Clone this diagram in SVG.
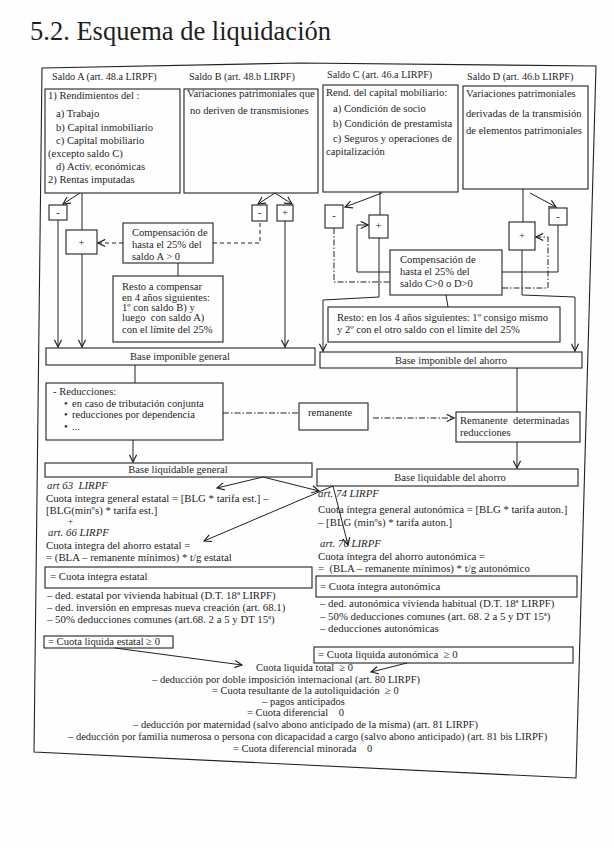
<svg xmlns="http://www.w3.org/2000/svg" width="614" height="848" viewBox="0 0 614 848">
<style>
text{font-family:"Liberation Serif","Times New Roman",serif;font-size:10.6px;fill:#1e1e1e}
.t{font-size:26.5px}
.h{font-size:10.2px}
.m{font-size:10.8px}
.b{font-size:10.5px}
.p{font-size:9px}
.i{font-style:italic}
.c{text-anchor:middle}
.box{fill:none;stroke:#222;stroke-width:1.1}
.ln{fill:none;stroke:#222;stroke-width:1}
.dash{stroke-dasharray:4 3}
.dd{stroke-dasharray:6 2 1.5 2}
</style>
<defs>
<marker id="a" viewBox="0 0 10 10" refX="9" refY="5" markerWidth="9" markerHeight="9" markerUnits="userSpaceOnUse" orient="auto"><path d="M1,1 L9,5 L1,9" fill="none" stroke="#222" stroke-width="1.3"/></marker>
</defs>
<rect width="614" height="848" fill="#fefefe"/>
<text x="30" y="40" class="t">5.2. Esquema de liquidación</text>
<polygon class="box" points="42,68 300,63 596,66 576,778 34,752"/>

<g id="saldoA">
<text x="52" y="80" class="h">Saldo A (art. 48.a LIRPF)</text>
<rect class="box" x="45" y="89" width="135" height="104"/>
<text x="48" y="99">1) Rendimientos del :</text>
<text x="56" y="117">a) Trabajo</text>
<text x="56" y="131">b) Capital inmobiliario</text>
<text x="56" y="144">c) Capital mobiliario</text>
<text x="48" y="157">(excepto saldo C)</text>
<text x="56" y="170">d) Activ. económicas</text>
<text x="48" y="183">2) Rentas imputadas</text>
</g>
<g id="saldoB">
<text x="189" y="80" class="h">Saldo B (art. 48.b LIRPF)</text>
<rect class="box" x="184" y="89" width="134" height="104"/>
<text x="187" y="97">Variaciones patrimoniales que</text>
<text x="190" y="114">no deriven de transmisiones</text>
</g>
<g id="saldoC">
<text x="327" y="78" class="h">Saldo C (art. 46.a LIRPF)</text>
<rect class="box" x="323" y="85" width="135" height="107"/>
<text x="326" y="96">Rend. del capital mobiliario:</text>
<text x="333" y="112">a) Condición de socio</text>
<text x="333" y="127">b) Condición de prestamista</text>
<text x="333" y="142">c) Seguros y operaciones de</text>
<text x="326" y="155">capitalización</text>
</g>
<g id="saldoD">
<text x="467" y="80" class="h">Saldo D (art. 46.b LIRPF)</text>
<rect class="box" x="463" y="86" width="125" height="103"/>
<text x="466" y="97">Variaciones patrimoniales</text>
<text x="466" y="117">derivadas de la transmisión</text>
<text x="466" y="134">de elementos patrimoniales</text>
</g>

<g id="menosA"><rect class="box" x="49" y="205" width="18" height="15"/><text x="58" y="216" class="c">-</text></g>
<g id="masA"><rect class="box" x="66" y="230" width="31" height="24"/><text x="81.5" y="246" class="c">+</text></g>
<g id="menosB"><rect class="box" x="252" y="205" width="15" height="16"/><text x="259.5" y="216" class="c">-</text></g>
<g id="masB"><rect class="box" x="277" y="205" width="16" height="16"/><text x="285" y="216" class="c">+</text></g>
<g id="compAB">
<rect class="box" x="123" y="223" width="90" height="40"/>
<text x="132" y="236">Compensación de</text>
<text x="132" y="248">hasta el 25% del</text>
<text x="132" y="260">saldo A &gt; 0</text>
</g>
<g id="restoAB">
<rect class="box" x="113" y="276" width="110" height="66"/>
<text x="122" y="290">Resto a compensar</text>
<text x="122" y="301">en 4 años siguientes:</text>
<text x="122" y="311">1º con saldo B) y</text>
<text x="122" y="321" xml:space="preserve">luego  con saldo A)</text>
<text x="122" y="333">con el límite del 25%</text>
</g>

<g id="menosC"><rect class="box" x="325" y="205" width="18" height="23"/><text x="334" y="219" class="c">-</text></g>
<g id="masC"><rect class="box" x="369" y="215" width="19" height="23"/><text x="378.5" y="229" class="c">+</text></g>
<g id="masD"><rect class="box" x="509" y="222" width="26" height="28"/><text x="522" y="239" class="c">+</text></g>
<g id="menosD"><rect class="box" x="549" y="208" width="18" height="17"/><text x="558" y="220" class="c">-</text></g>
<g id="compCD">
<rect class="box" x="390" y="250" width="112" height="45"/>
<text x="400" y="263">Compensación de</text>
<text x="400" y="275">hasta el 25% del</text>
<text x="400" y="287">saldo C&gt;0 o D&gt;0</text>
</g>
<g id="restoCD">
<rect class="box" x="328" y="307" width="232" height="35"/>
<text x="337" y="321">Resto: en los 4 años siguientes: 1º consigo mismo</text>
<text x="337" y="333">y 2º con el otro saldo con el límite del 25%</text>
</g>

<g id="bigeneral"><rect class="box" x="46" y="348" width="269" height="17"/><text x="180" y="360" class="c">Base imponible general</text></g>
<g id="biahorro"><rect class="box" x="320" y="352" width="262" height="16"/><text x="451" y="364" class="c">Base imponible del ahorro</text></g>

<g id="reducciones">
<rect class="box" x="46" y="383" width="177" height="57"/>
<text x="53" y="395">- Reducciones:</text>
<text x="64" y="407">•</text><text x="72" y="407">en caso de tributación conjunta</text>
<text x="64" y="418">•</text><text x="72" y="418">reducciones por dependencia</text>
<text x="64" y="430">•</text><text x="72" y="430">...</text>
</g>
<g id="remanente"><rect class="box" x="299" y="403" width="69" height="27"/><text x="308" y="416">remanente</text></g>
<g id="remdet">
<rect class="box" x="456" y="412" width="124" height="30"/>
<text x="460" y="424" xml:space="preserve">Remanente  determinadas</text>
<text x="460" y="436">reducciones</text>
</g>

<g id="blgeneral"><rect class="box" x="45" y="463" width="267" height="14"/><text x="178" y="473" class="c">Base liquidable general</text></g>
<g id="blahorro"><rect class="box" x="317" y="469" width="261" height="17"/><text x="450" y="481" class="c">Base liquidable del ahorro</text></g>

<g id="cuotaEstatal">
<text x="47" y="489" class="i m" xml:space="preserve">art 63  LIRPF</text>
<text x="46" y="502" class="m">Cuota integra general estatal = [BLG * tarifa est.] –</text>
<text x="46" y="514" class="m">[BLG(minºs) * tarifa est.]</text>
<text x="68" y="524" class="p">+</text>
<text x="48" y="536" class="i m">art. 66 LIRPF</text>
<text x="46" y="549" class="m">Cuota integra del ahorro estatal =</text>
<text x="46" y="561" class="m">= (BLA – remanente mínimos) * t/g estatal</text>
<rect class="box" x="45" y="567" width="267" height="21"/>
<text x="50" y="580" class="m">= Cuota integra estatal</text>
<text x="47" y="599" class="m">– ded. estatal por vivienda habitual (D.T. 18ª LIRPF)</text>
<text x="47" y="611" class="m">– ded. inversión en empresas nueva creación (art. 68.1)</text>
<text x="47" y="623" class="m">– 50% deducciones comunes (art.68. 2 a 5 y DT 15ª)</text>
<rect class="box" x="44" y="636" width="129" height="12"/>
<text x="48" y="645">= Cuota liquida estatal ≥ 0</text>
</g>

<g id="cuotaAutonomica">
<text x="318" y="497" class="i m">art. 74 LIRPF</text>
<text x="318" y="513" class="m">Cuota íntegra general autonómica = [BLG * tarifa auton.]</text>
<text x="318" y="526" class="m">– [BLG (minºs) * tarifa auton.]</text>
<text x="320" y="547" class="i m">art. 76 LIRPF</text>
<text x="318" y="560" class="m">Cuota íntegra del ahorro autonómica =</text>
<text x="318" y="572" class="m" xml:space="preserve">=  (BLA – remanente mínimos) * t/g autonómico</text>
<rect class="box" x="316" y="576" width="261" height="21"/>
<text x="320" y="590" class="m">= Cuota íntegra autonómica</text>
<text x="320" y="607" class="m">– ded. autonómica vivienda habitual (D.T. 18ª LIRPF)</text>
<text x="320" y="620" class="m">– 50% deducciones comunes (art. 68. 2 a 5 y DT 15ª)</text>
<text x="320" y="632" class="m">– deducciones autonómicas</text>
<rect class="box" x="314" y="647" width="259" height="16"/>
<text x="318" y="658" class="m" xml:space="preserve">= Cuota liquida autonómica  ≥ 0</text>
</g>

<g id="total">
<text x="256" y="671" class="b" xml:space="preserve">Cuota liquida total  ≥ 0</text>
<text x="152" y="683" class="b">– deducción por doble imposición internacional (art. 80 LIRPF)</text>
<text x="212" y="694" class="b" xml:space="preserve">= Cuota resultante de la autoliquidación  ≥ 0</text>
<text x="262" y="705" class="b">– pagos anticipados</text>
<text x="247" y="716" class="b" xml:space="preserve">= Cuota diferencial    0</text>
<text x="133" y="728" class="b">– deducción por maternidad (salvo abono anticipado de la misma) (art. 81 LIRPF)</text>
<text x="68" y="740" class="b">– deducción por familia numerosa o persona con dicapacidad a cargo (salvo abono anticipado) (art. 81 bis LIRPF)</text>
<text x="233" y="752" class="b" xml:space="preserve">= Cuota diferencial minorada    0</text>
</g>

<g id="connectors">
<path class="ln" d="M80,193 L63,204" marker-end="url(#a)"/>
<path class="ln" d="M82,193 V230"/>
<path class="ln" d="M58,220 V347" marker-end="url(#a)"/>
<path class="ln" d="M82,254 V347" marker-end="url(#a)"/>
<path class="ln dash" d="M123,243 H98" marker-end="url(#a)"/>
<path class="ln dash" d="M213,243 H260 V221"/>
<path class="ln" d="M178,263 V276"/>
<path class="ln" d="M275,193 L258,204" marker-end="url(#a)"/>
<path class="ln" d="M275,193 L292,204" marker-end="url(#a)"/>
<path class="ln" d="M285,221 V347" marker-end="url(#a)"/>

<path class="ln" d="M382,193 L345,207" marker-end="url(#a)"/>
<path class="ln" d="M380,192 V215"/>
<path class="ln dd" d="M334,228 V282 H390"/>
<path class="ln" d="M390,272 H357 V225 H368" marker-end="url(#a)"/>
<path class="ln" d="M379,238 V297 L323,300 V351" marker-end="url(#a)"/>
<path class="ln" d="M523,189 V222"/>
<path class="ln" d="M530,193 L556,207" marker-end="url(#a)"/>
<path class="ln" d="M522,250 V295 L575,297 V351" marker-end="url(#a)"/>
<path class="ln" d="M558,225 V272 H502"/>
<path class="ln dd" d="M502,288 H548 V237 H536" marker-end="url(#a)"/>
<path class="ln" d="M446,295 L448,307"/>

<path class="ln" d="M135,365 V383"/>
<path class="ln" d="M133,440 V462" marker-end="url(#a)"/>
<path class="ln dd" d="M223,413 H299"/>
<path class="ln dd" d="M373,418 H454" marker-end="url(#a)"/>
<path class="ln" d="M517,368 V412"/>
<path class="ln" d="M517,442 V468" marker-end="url(#a)"/>

<path class="ln" d="M263,477 L217,488" marker-end="url(#a)"/>
<path class="ln" d="M263,477 L319,491" marker-end="url(#a)"/>
<path class="ln" d="M333,486 L204,541" marker-end="url(#a)"/>
<path class="ln" d="M333,486 L348,545" marker-end="url(#a)"/>
<path class="ln" d="M115,648 L242,665" marker-end="url(#a)"/>
<path class="ln" d="M407,663 L371,672" marker-end="url(#a)"/>
</g>
</svg>
